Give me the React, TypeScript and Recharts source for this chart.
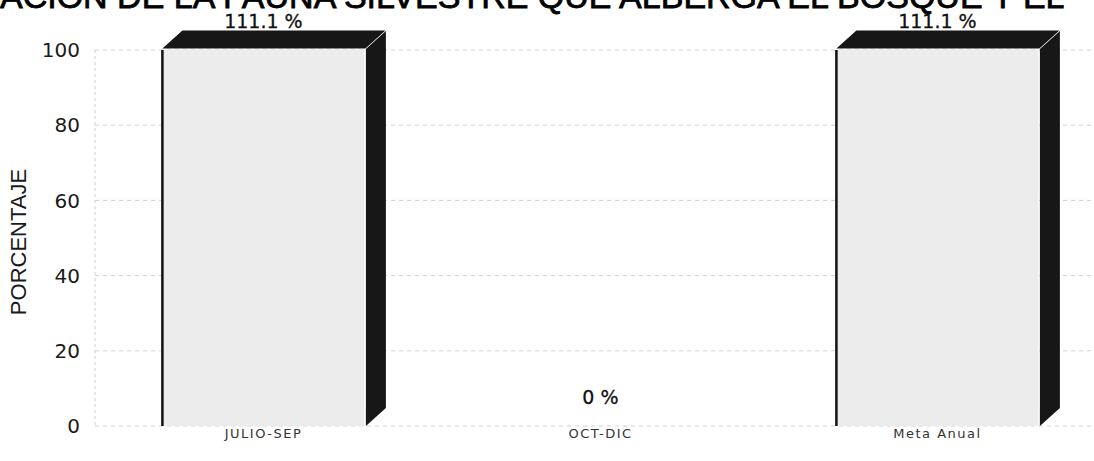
import React from 'react';
import { BarChart, Bar, XAxis, YAxis, CartesianGrid, LabelList, Label } from 'recharts';

const categories = ['JULIO-SEP', 'OCT-DIC', 'Meta Anual'];
const porcentajes = [111.1, 0, 111.1];
const yTicks = [0, 20, 40, 60, 80, 100];
const Y_MAX = 100;
const titleText = 'ACION DE LA FAUNA SILVESTRE QUE ALBERGA EL BOSQUE Y EL';
const yAxisTitle = 'PORCENTAJE';

// the chart's axis stops at 100, so bars are drawn up to the axis top; labels show the real value
const data = categories.map((c, i) => ({
  name: c,
  value: porcentajes[i],
  drawn: Math.min(porcentajes[i], Y_MAX),
}));

const W = 1110;
const H = 461;
const MARGIN = { top: 50, right: 4, bottom: 5, left: 35 };
const DX = 20;
const DY = 18;

function Bar3D(props: any) {
  const { x, y, width, height } = props;
  if (!height || height <= 0) return null;
  const bottom = y + height;
  const top = y;
  const right = x + width;
  return (
    <g>
      <rect x={x} y={top} width={width} height={bottom - top} fill="#ececec" />
      <polygon
        points={`${x},${top - 1.5} ${x + DX},${top - 1.5 - DY} ${right + DX + 1},${top - 1.5 - DY} ${right + 1},${top - 1.5}`}
        fill="#171717"
      />
      <polygon
        points={`${right + 1.5},${top - 1} ${right + 1.5 + DX},${top - 1 - DY} ${right + 1.5 + DX},${bottom - DY} ${right + 1.5},${bottom}`}
        fill="#171717"
      />
      <line x1={x} y1={top} x2={x} y2={bottom} stroke="#111" strokeWidth={2.5} />
    </g>
  );
}

function TopLabel(props: any) {
  const { x, y, width, value } = props;
  return (
    <text
      x={x + width / 2}
      y={y - 22}
      textAnchor="middle"
      fontFamily="DejaVu Sans"
      fontSize={19}
      fill="#111"
      stroke="#111"
      strokeWidth={0.3}
    >
      {`${value} %`}
    </text>
  );
}

function XTick(props: any) {
  const { x, y, payload } = props;
  return (
    <text
      x={x}
      y={y + 10}
      textAnchor="middle"
      fontFamily="DejaVu Sans"
      fontSize={13}
      letterSpacing={1.5}
      fill="#333"
    >
      {payload.value}
    </text>
  );
}

function YTitle(props: any) {
  const vb = props.viewBox || { x: MARGIN.left, y: MARGIN.top, width: 60, height: 376 };
  const cx = vb.x - 17;
  const cy = vb.y + vb.height / 2 + 4;
  return (
    <text
      x={cx}
      y={cy}
      transform={`rotate(-90 ${cx} ${cy})`}
      textAnchor="middle"
      dominantBaseline="central"
      fontFamily="Liberation Sans"
      fontSize={22}
      fill="#1a1a1a"
    >
      {yAxisTitle}
    </text>
  );
}

export default function App() {
  return (
    <div
      style={{
        position: 'absolute',
        left: 0,
        top: 0,
        width: 1094,
        height: 461,
        overflow: 'hidden',
        background: '#fff',
      }}
    >
      <BarChart width={W} height={H} data={data} margin={MARGIN} barCategoryGap="20%">
        <CartesianGrid vertical={false} stroke="#cfcfcf" strokeDasharray="4 4" />
        <XAxis
          dataKey="name"
          axisLine={false}
          tickLine={false}
          tickSize={0}
          tickMargin={2}
          height={30}
          tick={<XTick />}
          interval={0}
        />
        <YAxis
          width={60}
          domain={[0, Y_MAX]}
          ticks={yTicks}
          axisLine={{ stroke: '#d0d0d0', strokeDasharray: '3 3' }}
          tickLine={false}
          tickSize={0}
          tickMargin={15}
          tick={{ fontFamily: 'DejaVu Sans', fontSize: 20, fill: '#1a1a1a' }}
        >
          <Label content={<YTitle />} />
        </YAxis>
        <Bar dataKey="drawn" shape={<Bar3D />} isAnimationActive={false}>
          <LabelList dataKey="value" content={<TopLabel />} />
        </Bar>
      </BarChart>
      <svg
        width={1094}
        height={40}
        style={{ position: 'absolute', left: 0, top: 0, pointerEvents: 'none' }}
      >
        <text
          x={0}
          y={8}
          fontFamily="Liberation Sans"
          fontSize={34}
          fill="#000"
          stroke="#000"
          strokeWidth={0.8}
        >
          {titleText}
        </text>
      </svg>
    </div>
  );
}
